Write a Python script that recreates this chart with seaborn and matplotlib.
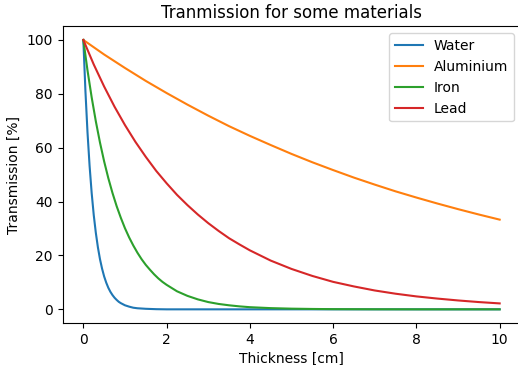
import numpy as np
import pandas as pd
import seaborn as sns
import matplotlib
matplotlib.use('Agg')
import matplotlib.pyplot as plt

# values (transmission in %)
water_x = [0, 0.05, 0.1, 0.15, 0.2, 0.25, 0.3, 0.35, 0.4, 0.45, 0.5, 0.55, 0.6, 0.65,
           0.7, 0.75, 0.8, 0.85, 0.9, 1.0, 1.1, 1.2, 1.3, 1.4, 1.5, 1.75, 2, 4, 6, 8, 10]
water_y = [100, 81.1, 65.7, 53.3, 43.2, 35.0, 28.4, 23.0, 18.6, 15.1, 12.2, 9.9, 8.0, 6.5,
           5.3, 4.3, 3.5, 2.8, 2.3, 1.5, 1.0, 0.6, 0.4, 0.3, 0.2, 0.06, 0.0, 0.0, 0.0, 0.0, 0.0]

aluminium_x = [0, 0.5, 1, 1.5, 2, 2.5, 3, 3.5, 4, 4.5, 5, 5.5, 6, 6.5, 7, 7.5, 8, 8.5, 9, 9.5, 10]
aluminium_y = [100, 94.6, 89.6, 84.8, 80.3, 76.0, 71.9, 68.0, 64.4, 61.0, 57.7, 54.6, 51.7,
               48.9, 46.3, 43.8, 41.5, 39.3, 37.2, 35.2, 33.3]

iron_x = [0, 0.1, 0.2, 0.3, 0.4, 0.5, 0.6, 0.7, 0.8, 0.9, 1.0, 1.1, 1.2, 1.3, 1.4, 1.5,
          1.6, 1.7, 1.8, 1.9, 2.0, 2.25, 2.5, 2.75, 3, 3.25, 3.5, 3.75, 4, 4.5, 5, 5.5,
          6, 7, 8, 10]
iron_y = [100, 88.7, 78.7, 69.8, 61.9, 54.9, 48.7, 43.2, 38.3, 34.0, 30.1, 26.7, 23.7,
          21.0, 18.6, 16.5, 14.7, 13.0, 11.5, 10.2, 9.1, 6.7, 5.0, 3.7, 2.7, 2.0, 1.5,
          1.1, 0.8, 0.45, 0.25, 0.14, 0.07, 0.02, 0.0, 0.0]

lead_x = [0, 0.25, 0.5, 0.75, 1, 1.25, 1.5, 1.75, 2, 2.25, 2.5, 2.75, 3, 3.25, 3.5, 3.75,
          4, 4.5, 5, 5.5, 6, 6.5, 7, 7.5, 8, 8.5, 9, 9.5, 10]
lead_y = [100, 90.9, 82.7, 75.2, 68.4, 62.2, 56.6, 51.4, 46.8, 42.5, 38.7, 35.2, 32.0,
          29.1, 26.4, 24.1, 21.9, 18.1, 15.0, 12.4, 10.2, 8.5, 7.0, 5.8, 4.8, 4.0, 3.3,
          2.7, 2.2]

materials = ['Water', 'Aluminium', 'Iron', 'Lead']
series = [(water_x, water_y), (aluminium_x, aluminium_y),
          (iron_x, iron_y), (lead_x, lead_y)]

frames = []
for name, (xs, ys) in zip(materials, series):
    frames.append(pd.DataFrame({'thickness': xs, 'transmission': ys, 'material': name}))
df = pd.concat(frames, ignore_index=True)

fig = plt.figure(figsize=(5.18, 3.65), dpi=100)
ax = fig.add_axes([0.1207, 0.1156, 0.8841, 0.8118])

sns.lineplot(data=df, x='thickness', y='transmission', hue='material',
             hue_order=materials, palette='tab10', linewidth=1.5, ax=ax)

ax.set_xlim(-0.5, 10.5)
ax.set_ylim(-5, 105)
ax.set_xticks([0, 2, 4, 6, 8, 10])
ax.set_yticks([0, 20, 40, 60, 80, 100])
ax.set_xlabel('Thickness [cm]')
ax.set_ylabel('Transmission [%]')
ax.set_title('Tranmission for some materials', fontsize=12)
ax.legend(loc='upper right')
# the reference is cropped so the right frame line is cut off
ax.spines['right'].set_visible(False)

fig.savefig('out.png', dpi=100)
